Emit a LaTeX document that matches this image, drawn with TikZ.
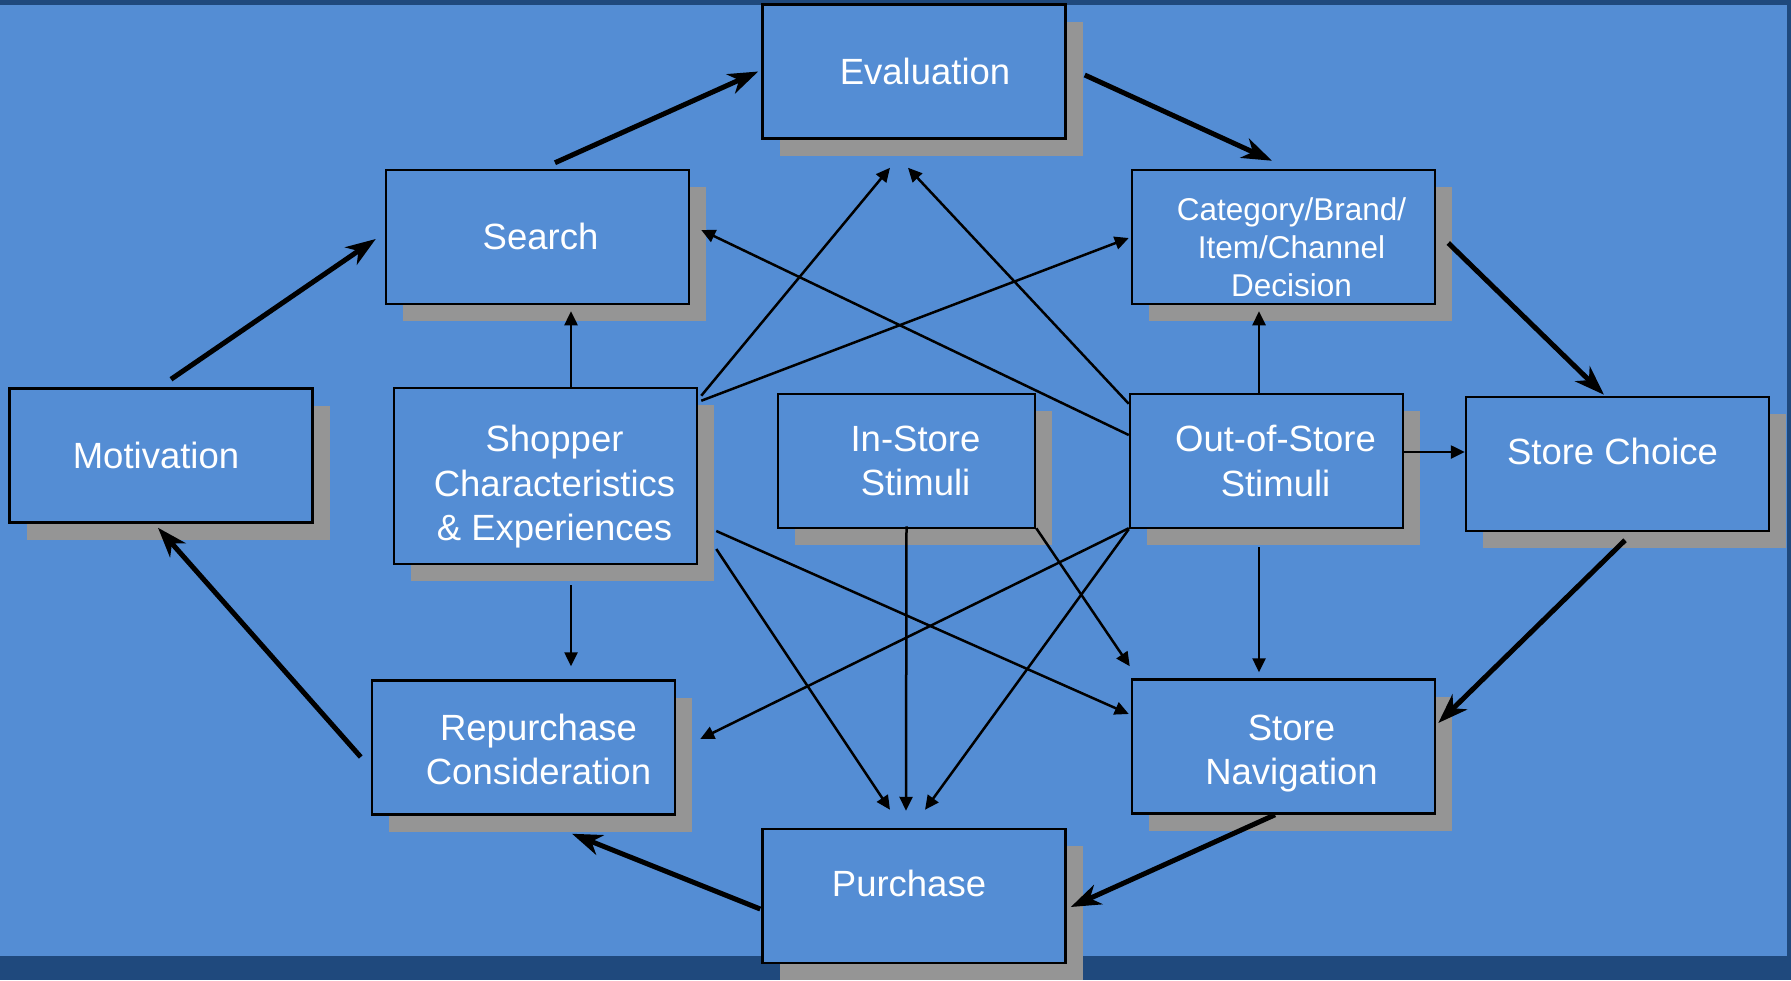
\documentclass[tikz,border=0pt]{standalone}
\usepackage{fontspec}
\setmainfont{Liberation Sans}
\usetikzlibrary{shadows,calc,arrows.meta}

\definecolor{fondbleu}{HTML}{548DD4}
\definecolor{bordbleu}{HTML}{1F497D}
\definecolor{ombre}{HTML}{959595}

\begin{document}
\begin{tikzpicture}[x=1pt,y=-1pt,
    boite/.style={draw=black, line width=2.5pt, fill=fondbleu,
        inner sep=0pt, minimum width=303pt, minimum height=134pt,
        drop shadow={shadow xshift=17pt, shadow yshift=-17pt, fill=ombre, opacity=1}},
    every label/.style={text=white, align=center, inner sep=0pt,
        font=\fontsize{36.5}{44.5}\selectfont},
    petit/.style={font=\fontsize{31.5}{38}\selectfont},
    fine/.style={line width=2.5pt, -{Triangle[length=14pt,width=13pt]}},
    epaisse/.style={line width=5pt, -{Stealth[length=30pt,width=21pt,inset=9pt]}}]

    % Le fond (bandes sombres en haut, a droite et en bas)
    \useasboundingbox (0,0) rectangle (1791,980);
    \fill[bordbleu] (0,0) rectangle (1791,980);
    \fill[fondbleu] (0,5) rectangle (1787,956);

    % Les boites du cycle (texte place en label au centre)
    \node[boite, label={[xshift=11pt]center:Evaluation}] (evaluation) at (914,71.5) {};
    \node[boite, label={[xshift=3pt,yshift=1pt]center:Search}] (search) at (537.5,237) {};
    \node[boite, label={[petit,xshift=8pt,yshift=-10pt]center:{Category/Brand/\\Item/Channel\\Decision}}]
        (decision) at (1283.5,237) {};
    \node[boite, label={[xshift=-5pt]center:Motivation}] (motivation) at (161,455.5) {};
    \node[boite, label={[xshift=-5pt,yshift=13pt]center:Store Choice}] (choice) at (1617.5,464) {};
    \node[boite, label={[xshift=15pt,yshift=-2pt]center:{Repurchase\\Consideration}}]
        (repurchase) at (523.5,747.5) {};
    \node[boite, label={[xshift=8pt,yshift=-7pt]center:{Store\\Navigation}}]
        (navigation) at (1283.5,746.5) {};
    \node[boite, label={[xshift=-5pt,yshift=13pt]center:Purchase}] (purchase) at (914,896) {};

    % Les influences au centre
    \node[boite, minimum height=176pt,
        label={[xshift=9pt,yshift=-11pt]center:{Shopper\\Characteristics\\\& Experiences}}]
        (shopper) at (545.5,476) {};
    \node[boite, minimum width=257pt, label={[xshift=9pt]center:{In-Store\\Stimuli}}]
        (instore) at (906.5,461) {};
    \node[boite, minimum width=273pt, label={[xshift=9pt]center:{Out-of-Store\\Stimuli}}]
        (outstore) at (1266.5,461) {};

    % Fleches epaisses (le cycle)
    \draw[epaisse] ($(search.north)+(17.5,-6)$) -- ($(evaluation.west)+(-3,0)$);
    \draw[epaisse] ($(evaluation.east)+(18,3.5)$) -- ($(decision.north)+(-11.5,-8)$);
    \draw[epaisse] ($(decision.east)+(12,6)$) -- ($(choice.north)+(-13.5,-1)$);
    \draw[epaisse] ($(choice.south)+(7.5,8)$) -- ($(navigation.east)+(2,-23.5)$);
    \draw[epaisse] ($(navigation.south)+(-8.5,0)$) -- ($(purchase.east)+(4,11)$);
    \draw[epaisse] ($(purchase.west)+(-1,13)$) -- ($(repurchase.south)+(48.5,18)$);
    \draw[epaisse] ($(repurchase.west)+(-10,9.5)$) -- ($(motivation.south)+(-3,4)$);
    \draw[epaisse] ($(motivation.north)+(10,-8)$) -- ($(search.west)+(-9,2)$);

    % Fleches fines depuis Shopper
    \draw[fine] ($(shopper.north)+(25.5,0)$) -- ($(search.south)+(33.5,6)$);
    \draw[fine] ($(shopper.south)+(25.5,20)$) -- ($(repurchase.north)+(47.5,-13)$);
    \draw[fine] ($(shopper.north east)+(3,9)$) -- ($(evaluation.south)+(-24,28)$);
    \draw[fine] ($(shopper.north east)+(3,14)$) -- ($(decision.west)+(-2,1)$);
    \draw[fine] ($(shopper.east)+(18,55)$) -- ($(navigation.west)+(-2,-32.5)$);
    \draw[fine] ($(shopper.east)+(18,73)$) -- ($(purchase.north)+(-24,-18)$);

    % Fleches fines depuis In-Store
    \draw[fine] ($(instore.south)+(0,-3)$) -- ($(purchase.north)+(-8,-17)$);
    \draw[fine] ($(instore.south east)+(0,-1)$) -- ($(navigation.north west)+(-1,-12)$);

    % Fleches fines depuis Out-of-Store
    \draw[fine] ($(outstore.north west)+(0,11)$) -- ($(evaluation.south)+(-6,28)$);
    \draw[fine] ($(outstore.west)+(0,-26)$) -- ($(search.east)+(11,-7)$);
    \draw[fine] ($(outstore.north)+(-7.5,0)$) -- ($(decision.south)+(-24.5,6)$);
    \draw[fine] ($(outstore.east)+(0,-9)$) -- ($(choice.west)+(0,-12)$);
    \draw[fine] ($(outstore.south)+(-7.5,18)$) -- ($(navigation.north)+(-24.5,-6)$);
    \draw[fine] ($(outstore.south west)+(0,-1)$) -- ($(repurchase.east)+(24,-8.5)$);
    \draw[fine] ($(outstore.south west)+(0,0)$) -- ($(purchase.north)+(11,-18)$);

\end{tikzpicture}
\end{document}
